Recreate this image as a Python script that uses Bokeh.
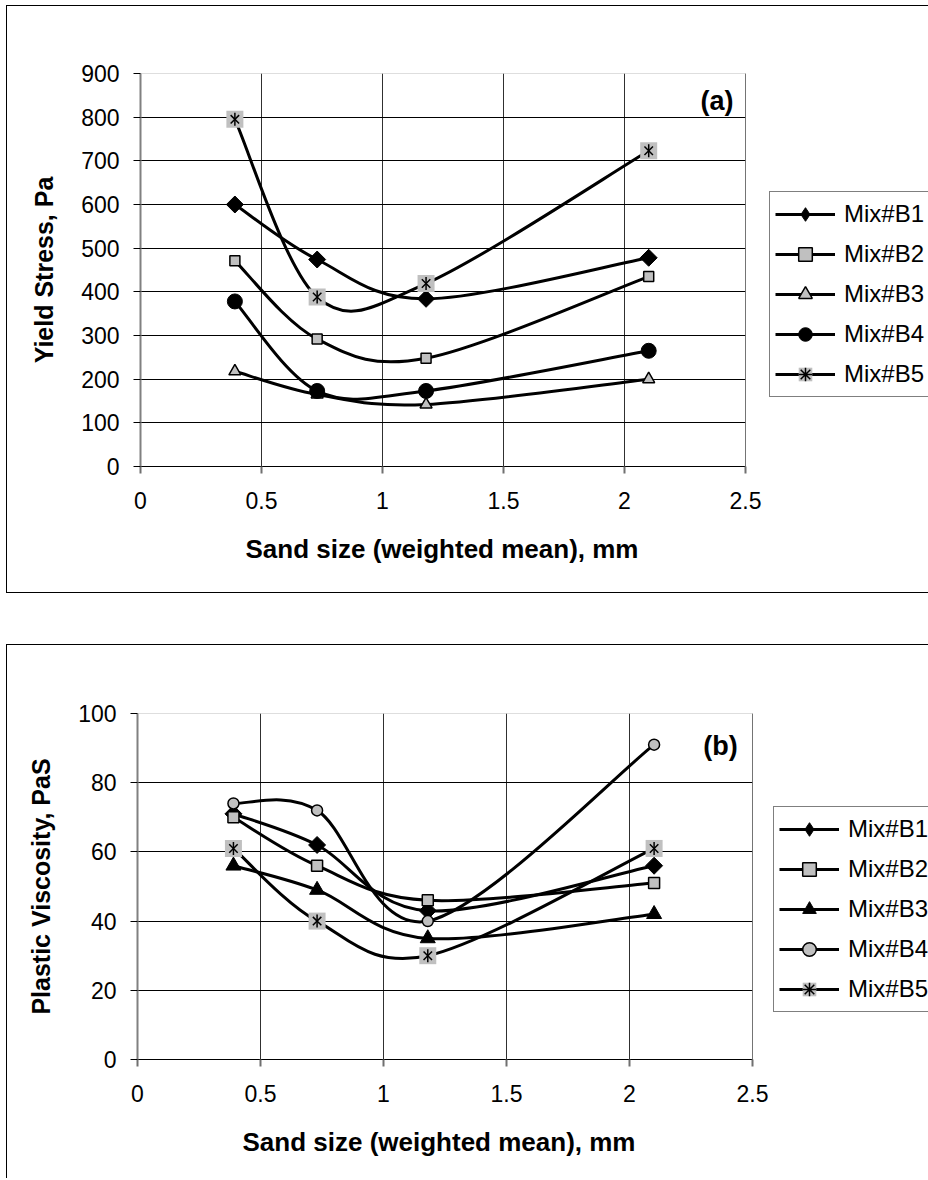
import numpy as np
from bokeh.plotting import figure
from bokeh.models import (FixedTicker, Legend, LegendItem, Label, ColumnDataSource,
                          Range1d, Spacer, BoxAnnotation, Title)
from bokeh.layouts import column, row
from bokeh.embed import file_html
from bokeh.resources import INLINE

# ---------------- data ----------------
sand_size = [0.39, 0.73, 1.18, 2.10]
series_names = ["Mix#B1", "Mix#B2", "Mix#B3", "Mix#B4", "Mix#B5"]

yield_b1 = [600, 474, 384, 478]
yield_b2 = [471, 292, 248, 435]
yield_b3 = [218, 165, 142, 200]
yield_b4 = [378, 173, 173, 265]
yield_b5 = [795, 388, 419, 723]

visc_b1 = [71, 62, 43, 56]
visc_b2 = [70, 56, 46, 51]
visc_b3 = [56, 49, 35, 42]
visc_b4 = [74, 72, 40, 91]
visc_b5 = [61, 40, 30, 61]

x_ticks = [0, 0.5, 1, 1.5, 2, 2.5]
yield_ticks = [0, 100, 200, 300, 400, 500, 600, 700, 800, 900]
visc_ticks = [0, 20, 40, 60, 80, 100]
x_title = "Sand size (weighted mean), mm"

FONT = "Liberation Sans"
X_MAX = 2.5
CANVAS_W = 921


def smooth_source(xs, ys):
    """Bezier control points (Excel-like smoothed line) computed from the data."""
    P = np.column_stack([xs, ys]).astype(float)
    n = len(P)
    d = {k: [] for k in ["x0", "y0", "x1", "y1", "cx0", "cy0", "cx1", "cy1"]}
    for i in range(n - 1):
        p0 = P[max(i - 1, 0)]
        p1 = P[i]
        p2 = P[i + 1]
        p3 = P[min(i + 2, n - 1)]
        c1 = p1 + (p2 - p0) / 6.0
        c2 = p2 - (p3 - p1) / 6.0
        d["x0"].append(p1[0]); d["y0"].append(p1[1])
        d["x1"].append(p2[0]); d["y1"].append(p2[1])
        d["cx0"].append(c1[0]); d["cy0"].append(c1[1])
        d["cx1"].append(c2[0]); d["cy1"].append(c2[1])
    return ColumnDataSource(d)


def make_panel(ys_list, styles, legend_styles, y_end, y_ticks, y_label, tag, height,
               borders, plot_w, legend_loc, tag_pos):
    bl, bt, bb = borders
    frame_w = CANVAS_W - bl
    x_end = X_MAX * frame_w / plot_w   # frame runs to canvas edge; legend sits right of 2.5
    p = figure(width=CANVAS_W, height=height, output_backend="svg", toolbar_location=None,
               x_range=Range1d(0, x_end), y_range=Range1d(0, y_end),
               min_border_left=bl, min_border_right=0,
               min_border_top=bt, min_border_bottom=bb,
               title=None)
    p.background_fill_color = "white"
    p.border_fill_color = "white"
    p.outline_line_color = None

    p.xaxis.ticker = FixedTicker(ticks=x_ticks)
    p.yaxis.ticker = FixedTicker(ticks=y_ticks)
    p.xaxis.bounds = (0, X_MAX)
    p.yaxis.axis_label = y_label
    for ax in (p.xaxis[0], p.yaxis[0]):
        ax.axis_label_text_font = FONT
        ax.axis_label_text_font_style = "bold"
        ax.axis_label_text_font_size = "25px"
        ax.axis_label_text_color = "black"
        ax.major_label_text_font = FONT
        ax.major_label_text_font_size = "23px"
        ax.major_label_text_color = "black"
        ax.minor_tick_line_color = None
        ax.major_tick_in = 0
        ax.major_tick_out = 7
    p.xaxis.axis_line_color = "black"
    p.xaxis.axis_line_width = 1
    p.xaxis.major_tick_line_color = "#707070"
    p.xaxis.major_tick_line_width = 2
    p.xaxis.major_label_standoff = 18
    p.yaxis.axis_line_color = "#808080"
    p.yaxis.axis_line_width = 2
    p.yaxis.major_tick_line_color = "black"
    p.yaxis.major_label_standoff = 14
    p.yaxis.axis_label_standoff = 20

    # x-axis title, centred under the 0..2.5 plotting region
    p.add_layout(Title(text=x_title, align="left", offset=105, standoff=40,
                       text_font=FONT, text_font_style="bold", text_font_size="26px",
                       text_color="black"), "below")

    p.xgrid.grid_line_color = "#303030"
    p.xgrid.grid_line_width = 1
    p.ygrid.ticker = FixedTicker(ticks=y_ticks[:-1])
    p.ygrid.grid_line_color = "black"
    p.ygrid.grid_line_width = 1

    # blank out the area right of the plotting region (where the legend lives)
    p.add_layout(BoxAnnotation(left=X_MAX, right=x_end * 1.05, bottom=0, top=y_end * 1.05,
                               fill_color="white", fill_alpha=1, line_color=None,
                               level="underlay"))
    # outline of the plotting region 0..2.5 x 0..y_end
    p.add_layout(BoxAnnotation(left=0, right=X_MAX, bottom=0, top=y_end,
                               fill_alpha=0, line_color="#202020", line_width=1,
                               level="underlay"))

    items = []
    for name, ys, st, lst in zip(series_names, ys_list, styles, legend_styles):
        bez = p.bezier(x0="x0", y0="y0", x1="x1", y1="y1", cx0="cx0", cy0="cy0",
                       cx1="cx1", cy1="cy1", source=smooth_source(sand_size, ys),
                       line_color="black", line_width=3)
        rends = [bez]
        for m in st:
            r = p.scatter(sand_size, ys, **m)
            if lst is None:
                rends.append(r)
        if lst is not None:
            for m in lst:
                r = p.scatter(sand_size, ys, visible=False, **m)
                rends.append(r)
        items.append(LegendItem(label=name, renderers=rends))

    legend = Legend(items=items, location=legend_loc)
    legend.border_line_color = "black"
    legend.border_line_width = 1
    legend.background_fill_color = "white"
    legend.background_fill_alpha = 1
    legend.padding = 5
    legend.margin = 0
    legend.spacing = 6
    legend.glyph_height = 34
    legend.glyph_width = 60
    legend.label_height = 34
    legend.label_standoff = 9
    legend.label_text_font = FONT
    legend.label_text_font_size = "24px"
    legend.label_text_color = "black"
    p.add_layout(legend, "center")

    p.add_layout(Label(x=tag_pos[0], y=tag_pos[1], text=tag, text_align="right",
                       text_baseline="middle", text_font=FONT,
                       text_font_style="bold", text_font_size="27px",
                       text_color="black"))
    return p


GRAY = "#c0c0c0"
diamond = dict(marker="square", angle=np.pi / 4, size=12, fill_color="black",
               line_color="black", line_width=1)
legend_diamond = [dict(marker="diamond", size=16, fill_color="black",
                       line_color="black", line_width=1)]
b5_back = dict(marker="square", size=17, fill_color=GRAY, line_color=None)
b5_x = dict(marker="x", size=12, line_color="black", line_width=1.5)
b5_v = dict(marker="dash", angle=np.pi / 2, size=13, line_color="black", line_width=1.5)
legend_b5 = [dict(marker="square", size=17, fill_color=GRAY, line_color=None),
             dict(marker="asterisk", size=12, line_color="black", line_width=1.5)]

styles_a = [
    [diamond],
    [dict(marker="square", size=10, fill_color=GRAY, line_color="black", line_width=1.5)],
    [dict(marker="triangle", size=12, fill_color=GRAY, line_color="black", line_width=1.5)],
    [dict(marker="circle", size=15, fill_color="black", line_color="black")],
    [b5_back, b5_x, b5_v],
]
styles_b = [
    [diamond],
    [dict(marker="square", size=11, fill_color=GRAY, line_color="black", line_width=1.5)],
    [dict(marker="triangle", size=15, fill_color="black", line_color="black")],
    [dict(marker="circle", size=11, fill_color=GRAY, line_color="black", line_width=1.5)],
    [b5_back, b5_x, b5_v],
]
legend_styles = [legend_diamond, None, None, None, legend_b5]

pa = make_panel([yield_b1, yield_b2, yield_b3, yield_b4, yield_b5], styles_a, legend_styles,
                900, yield_ticks, "Yield Stress, Pa", "(a)", 586,
                (133, 67, 126), 605, (629, 69), (2.45, 838))
pb = make_panel([visc_b1, visc_b2, visc_b3, visc_b4, visc_b5], styles_b, legend_styles,
                100, visc_ticks, "Plastic Viscosity, PaS", "(b)", 533,
                (130, 68, 119), 615, (636, 47), (2.44, 90.5))

box_a = column(pa, styles={"border-left": "1px solid black",
                           "border-top": "1px solid black",
                           "border-bottom": "1px solid black"})
box_b = column(pb, styles={"border-left": "1px solid black",
                           "border-top": "1px solid black"})
stack = column(Spacer(height=5), box_a, Spacer(height=51), box_b)
layout = row(Spacer(width=6), stack)

open("out.html", "w").write(file_html(layout, INLINE))
